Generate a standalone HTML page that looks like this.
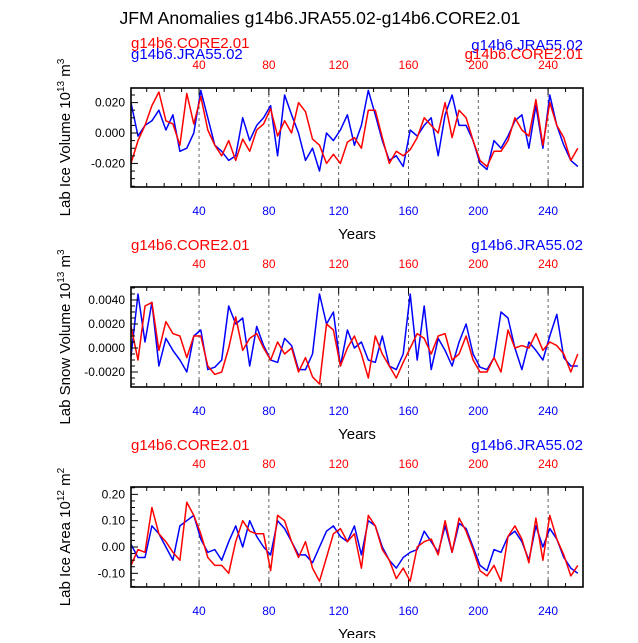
<!DOCTYPE html>
<html><head><meta charset="utf-8"><style>
body{margin:0;background:#fff;}
svg text{font-family:"Liberation Sans",sans-serif;}
</style></head><body>
<svg id="chart" width="638" height="638" viewBox="0 0 638 638" xmlns="http://www.w3.org/2000/svg">
<text x="320" y="24" font-size="17.6" text-anchor="middle">JFM Anomalies g14b6.JRA55.02-g14b6.CORE2.01</text>
</svg>
<script>
const years = [1,5,9,13,17,21,25,29,33,37,41,45,49,53,57,61,65,69,73,77,81,85,89,93,97,101,105,109,113,117,121,125,129,133,137,141,145,149,153,157,161,165,169,173,177,181,185,189,193,197,201,205,209,213,217,221,225,229,233,237,241,245,249,253,257];
const iceVolCore = [-20,-5,5,18,27,8,6,-8,26,6,24,2,-8,-15,-5,-18,-4,-12,2,6,16,-2,8,0,20,14,-4,-8,-20,-14,-20,-6,-3,-10,15,15,-3,-20,-12,-15,-11,-3,10,5,0,20,-3,15,10,-5,-18,-22,-12,-12,-5,10,2,-2,22,-8,20,5,-3,-18,-10];
const iceVolJra = [20,-2,5,8,15,2,12,-12,-10,0,28,10,-8,-12,-18,-15,10,-5,5,10,18,-15,25,12,0,-18,-10,-25,0,-5,2,12,-8,5,28,12,-5,-18,-15,-22,2,-2,5,10,-15,12,25,5,5,-5,-20,-24,-5,-10,-2,8,12,-10,18,-10,25,5,-8,-18,-22];
const snowVolCore = [18,-10,35,38,-2,22,12,10,-8,10,10,-15,-22,-20,0,26,-2,8,12,0,-10,5,-5,0,-20,-8,-24,-30,20,15,-15,0,10,-5,-25,10,-5,-15,-25,-12,0,12,8,-5,10,12,-10,-5,10,-10,-20,-20,-8,-20,15,0,2,0,12,-2,5,2,-5,-20,-5];
const snowVolJra = [-7,45,5,38,-15,8,-2,-10,-20,10,15,-18,-16,-10,35,20,25,-15,18,2,-10,-12,8,2,-18,-18,-5,45,20,30,-15,15,0,5,-10,-12,10,-15,-18,-5,45,-10,35,-18,8,-2,-15,5,20,-5,-16,-18,-8,30,25,0,-18,5,-2,-10,10,28,-8,-15,-15];
const iceAreaCore = [-7,-1,-2,15,5,2,-2,-5,17,12,5,-4,-7,-7,-10,2,10,6,5,5,-9,12,10,2,-4,2,-8,-13,-4,5,7,2,5,-8,12,8,-1,-5,-12,-8,-13,0,2,3,-3,10,-2,11,6,-1,-9,-11,-7,-13,4,8,3,-6,11,-5,12,3,-3,-11,-7];
const iceAreaJra = [1,-4,-4,8,5,0,-5,8,10,12,3,-2,-1,-5,2,8,0,10,4,0,-3,10,7,2,-3,-3,-6,0,6,8,4,2,8,-3,10,8,0,-5,-8,-4,-2,-1,6,2,-2,8,-2,9,7,0,-7,-9,-1,-2,4,6,2,-5,8,0,7,3,-4,-8,-10];
const xTicks = [40,80,120,160,200,240];

const NS = "http://www.w3.org/2000/svg";
const svg = document.getElementById('chart');
function mk(tag, attrs, parent){const e=document.createElementNS(NS,tag);for(const k in attrs)e.setAttribute(k,attrs[k]);(parent||svg).appendChild(e);return e;}
const X0=131,X1=583;
const xs = y => X0 + (y-1)/(260-1)*(X1-X0);

const panels = [
 {top:88,bot:187,min:-0.0355,max:0.0296,scale:0.001,core:iceVolCore,jra:iceVolJra,ticks:[-0.02,0,0.02],tl:["-0.020","0.000","0.020"],minor:0.005,
  label:["Lab Ice Volume 10","13"," m","3"],name:"ice-volume",twoRow:true},
 {top:287,bot:387,min:-0.00325,max:0.00508,scale:0.0001,core:snowVolCore,jra:snowVolJra,ticks:[-0.002,0,0.002,0.004],tl:["-0.0020","0.0000","0.0020","0.0040"],minor:0.0005,
  label:["Lab Snow Volume 10","13"," m","3"],name:"snow-volume"},
 {top:487,bot:587,min:-0.152,max:0.228,scale:0.01,core:iceAreaCore,jra:iceAreaJra,ticks:[-0.1,0,0.1,0.2],tl:["-0.10","0.00","0.10","0.20"],minor:0.025,
  label:["Lab Ice Area 10","12"," m","2"],name:"ice-area"}
];

panels.forEach(p=>{
  const g=mk('g',{});
  
  
  const ys = v => p.bot - (v-p.min)/(p.max-p.min)*(p.bot-p.top);
  xTicks.forEach(t=>{
    const l=mk('line',{x1:xs(t),x2:xs(t),y1:p.top,y2:p.bot,stroke:'#555','stroke-width':0.9,'stroke-dasharray':'3,3'},g);
    
    
  });
  [['jra','#0000ff'],['core','#ff0000']].forEach(([k,c])=>{
    const d=years.map((y,i)=>(i?'L':'M')+xs(y).toFixed(1)+','+ys(p[k][i]*p.scale).toFixed(1)).join('');
    const path=mk('path',{d:d,fill:'none',stroke:c,'stroke-width':1.5,'stroke-linejoin':'round'},g);
    
    
  });
  const fr=mk('rect',{x:X0,y:p.top,width:X1-X0,height:p.bot-p.top,fill:'none',stroke:'#000','stroke-width':1.6},g);
  
  
  for(let t=10;t<=260;t+=10){
    const maj=t%40===0, L=maj?7:4;
    mk('line',{x1:xs(t),x2:xs(t),y1:p.bot,y2:p.bot-L,stroke:'#000','stroke-width':1},g);
    mk('line',{x1:xs(t),x2:xs(t),y1:p.top,y2:p.top+L,stroke:'#000','stroke-width':1},g);
  }
  xTicks.forEach(t=>{
    const b=mk('text',{x:xs(t),y:p.bot+28,'font-size':12,fill:'#0000ff','text-anchor':'middle'},g);b.textContent=t;
    
    
    const tt=mk('text',{x:xs(t),y:p.top-19,'font-size':12,fill:'#ff0000','text-anchor':'middle'},g);tt.textContent=t;
    
    
  });
  for(let v=Math.ceil(p.min/p.minor)*p.minor; v<=p.max+1e-12; v+=p.minor){
    const maj=p.ticks.some(t=>Math.abs(t-v)<p.minor/10);
    mk('line',{x1:X0,x2:X0+(maj?7:4),y1:ys(v),y2:ys(v),stroke:'#000','stroke-width':1},g);
  }
  p.ticks.forEach((t,i)=>{
    const e=mk('text',{x:X0-6,y:ys(t)+4,'font-size':12,'text-anchor':'end'},g);e.textContent=p.tl[i];
    
    
  });
  const xt=mk('text',{x:357,y:p.bot+52,'font-size':15,'text-anchor':'middle'},g);xt.textContent='Years';
  
  
  const cy=(p.top+p.bot)/2;
  const yt=mk('text',{x:0,y:0,'font-size':15,'text-anchor':'middle',transform:`translate(70,${cy}) rotate(-90)`},g);
  
  
  const s1=mk('tspan',{},yt);s1.textContent=p.label[0];
  const s2=mk('tspan',{dy:-6,'font-size':10},yt);s2.textContent=p.label[1];
  const s3=mk('tspan',{dy:6},yt);s3.textContent=p.label[2];
  const s4=mk('tspan',{dy:-6,'font-size':10},yt);s4.textContent=p.label[3];
  const lc=mk('text',{x:X0,y:p.top-37,'font-size':15,fill:'#ff0000'},g);lc.textContent='g14b6.CORE2.01';
  
  
  const lj=mk('text',{x:X1,y:p.top-37,'font-size':15,fill:'#0000ff','text-anchor':'end'},g);lj.textContent='g14b6.JRA55.02';
  
  
  if(p.twoRow){
    const a=mk('text',{x:X0,y:p.top-29,'font-size':15,fill:'#0000ff'},g);a.textContent='g14b6.JRA55.02';
    
    
    const b=mk('text',{x:X1,y:p.top-29,'font-size':15,fill:'#ff0000','text-anchor':'end'},g);b.textContent='g14b6.CORE2.01';
    
    
    lc.setAttribute('y',p.top-40);lj.setAttribute('y',p.top-38);
  }
});
</script>
</body></html>
